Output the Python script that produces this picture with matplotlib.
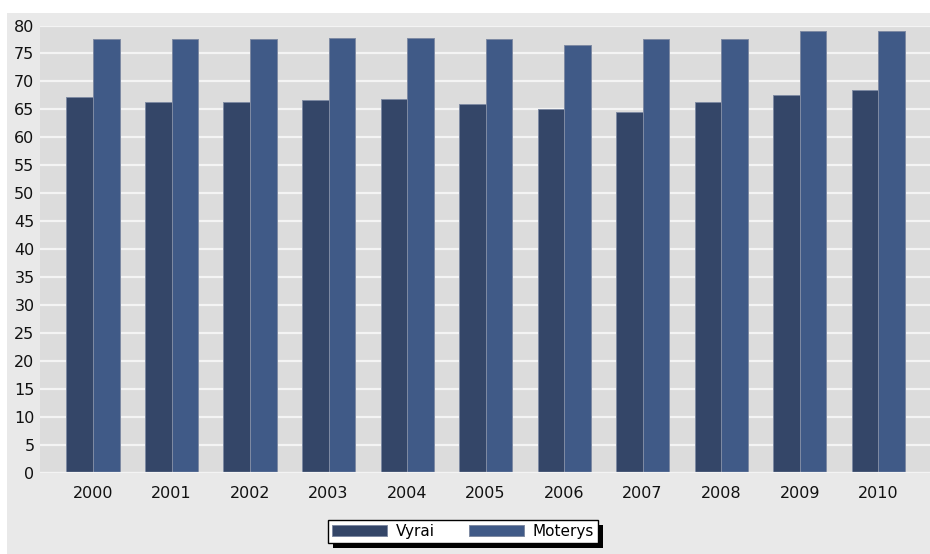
import numpy as np
import matplotlib.pyplot as plt
from matplotlib.patches import Rectangle

years = ['2000', '2001', '2002', '2003', '2004', '2005',
         '2006', '2007', '2008', '2009', '2010']
vyrai = [67.2, 66.3, 66.3, 66.7, 66.9, 66.0, 65.1, 64.5, 66.3, 67.5, 68.5]
moterys = [77.5, 77.5, 77.5, 77.7, 77.7, 77.5, 76.6, 77.5, 77.5, 79.0, 79.0]

W, H = 930, 554
fig = plt.figure(figsize=(W / 100, H / 100), dpi=100)
fig.patch.set_facecolor('white')
# light grey panel behind everything
fig.add_artist(Rectangle((7 / W, 0), 1 - 7 / W, (H - 13) / H,
                         transform=fig.transFigure, facecolor='#e9e9e9',
                         edgecolor='none', zorder=-10))

ax = fig.add_axes([40 / W, (H - 473) / H, (W - 40) / W, (473 - 25.5) / H])
ax.set_facecolor('#dcdcdc')

x = np.arange(len(years))
bw = 0.338
ax.bar(x - bw / 2, vyrai, bw, color='#344668', edgecolor='#7e8aa3',
       linewidth=0.7, label='Vyrai', zorder=3)
ax.bar(x + bw / 2, moterys, bw, color='#405a87', edgecolor='#7e8aa3',
       linewidth=0.7, label='Moterys', zorder=3)

ax.set_xlim(-0.675, len(years) - 1 + 0.66)
ax.set_ylim(0, 80)
ax.set_yticks(range(0, 81, 5))
ax.set_xticks(x)
ax.set_xticklabels(years)
ax.yaxis.grid(True, color='#f4f4f4', linewidth=1.6, zorder=0)
ax.set_axisbelow(True)
for s in ax.spines.values():
    s.set_visible(False)
ax.axhline(0, color='#f4f4f4', linewidth=1.6, zorder=4)
ax.tick_params(length=0, labelsize=11.5, colors='#111111')
ax.tick_params(axis='x', pad=9)
ax.tick_params(axis='y', pad=4)

leg = fig.legend(loc='center', bbox_to_anchor=(463 / W, 1 - 531.5 / H),
                 ncol=2, fontsize=11, frameon=True, fancybox=False,
                 framealpha=1, handlelength=3.6, handleheight=0.7,
                 columnspacing=2.2, borderpad=0.25, handletextpad=0.6,
                 borderaxespad=0)
leg.get_frame().set_edgecolor('black')
leg.get_frame().set_linewidth(1.0)
leg.get_frame().set_facecolor('white')
leg.set_zorder(5)

# solid drop shadow under the legend box
fig.canvas.draw()
bb = leg.get_window_extent().transformed(fig.transFigure.inverted())
fig.add_artist(Rectangle((bb.x0 + 5 / W, bb.y0 - 5 / H), bb.width, bb.height,
                         transform=fig.transFigure, facecolor='black',
                         edgecolor='none', zorder=4))

fig.savefig('out.png', dpi=100)
